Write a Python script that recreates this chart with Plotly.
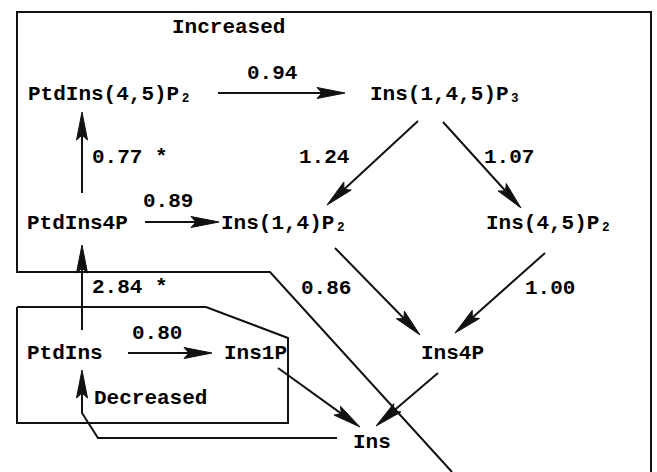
import math
import plotly.graph_objects as go

# ---------------- data ----------------
node_names = ["PtdIns(4,5)P₂", "Ins(1,4,5)P₃", "PtdIns4P", "Ins(1,4)P₂",
              "Ins(4,5)P₂", "Ins4P", "PtdIns", "Ins1P", "Ins"]
region_names = ["Increased", "Decreased"]
edge_source = ["PtdIns(4,5)P₂", "PtdIns4P", "Ins(1,4,5)P₃", "Ins(1,4,5)P₃", "PtdIns4P",
               "PtdIns", "Ins(1,4)P₂", "Ins(4,5)P₂", "PtdIns", "Ins1P", "Ins4P", "Ins"]
edge_target = ["Ins(1,4,5)P₃", "PtdIns(4,5)P₂", "Ins(1,4)P₂", "Ins(4,5)P₂", "Ins(1,4)P₂",
               "PtdIns4P", "Ins4P", "Ins4P", "Ins1P", "Ins", "Ins", "PtdIns"]
edge_values = ["0.94", "0.77 *", "1.24", "1.07", "0.89",
               "2.84 *", "0.86", "1.00", "0.80", "", "", ""]

# ---------------- layout (pixel canvas) ----------------
W, H = 657, 472
node_pos = {
    "PtdIns(4,5)P₂": (110, 94), "Ins(1,4,5)P₃": (445, 94),
    "PtdIns4P": (77, 223), "Ins(1,4)P₂": (284, 223), "Ins(4,5)P₂": (549, 223),
    "Ins4P": (452, 353), "PtdIns": (65, 353), "Ins1P": (255, 353), "Ins": (372, 442),
}
region_pos = {"Increased": (228, 27), "Decreased": (150, 398)}
# edge geometry: list of points (tail ... tip), label position
edge_geom = [
    ([(218, 93), (345, 93)], (272, 73)),
    ([(82, 193), (82, 112)], (130, 157)),
    ([(418, 121), (327, 205)], (324, 157)),
    ([(443, 122), (521, 208)], (509, 157)),
    ([(145, 222), (219, 222)], (168, 201)),
    ([(82, 330), (82, 245)], (130, 287)),
    ([(335, 248), (420, 335)], (326, 288)),
    ([(545, 253), (455, 333)], (550, 288)),
    ([(128, 353), (212, 353)], (157, 333)),
    ([(278, 368), (360, 427)], None),
    ([(438, 373), (376, 426)], None),
    ([(337, 438), (98, 438), (82, 413), (82, 370)], None),
]
region_paths = [
    [(452, 472), (270, 272), (17, 272), (17, 12), (651, 12), (651, 472)],
    [(17, 307), (206, 307), (288, 338), (288, 423), (17, 423), (17, 307)],
]

FONT = dict(family="Liberation Mono, Courier New, monospace", size=21, color="black", weight="bold")
INK = "#111111"

shapes = []
annotations = []


def path_str(pts, close=False):
    s = "M " + " L ".join(f"{x},{y}" for x, y in pts)
    return s + (" Z" if close else "")


def head(p0, p1, L=28, hw=5.5, notch=5):
    dx, dy = p1[0] - p0[0], p1[1] - p0[1]
    n = math.hypot(dx, dy)
    ux, uy = dx / n, dy / n
    px, py = -uy, ux
    bx, by = p1[0] - ux * L, p1[1] - uy * L
    left = (bx + px * hw, by + py * hw)
    right = (bx - px * hw, by - py * hw)
    mid = (bx + ux * notch, by + uy * notch)
    return path_str([p1, left, mid, right], close=True), (bx + ux * notch, by + uy * notch)


for pts in region_paths:
    shapes.append(dict(type="path", path=path_str(pts), xref="x", yref="y",
                       line=dict(color=INK, width=2), fillcolor="rgba(0,0,0,0)"))

for (pts, lab), val in zip(edge_geom, edge_values):
    hp, base = head(pts[-2], pts[-1])
    line_pts = pts[:-1] + [base]
    shapes.append(dict(type="path", path=path_str(line_pts), xref="x", yref="y",
                       line=dict(color=INK, width=2), fillcolor="rgba(0,0,0,0)"))
    shapes.append(dict(type="path", path=hp, xref="x", yref="y",
                       line=dict(color=INK, width=1), fillcolor=INK))
    if lab is not None and val:
        annotations.append(dict(x=lab[0], y=lab[1], text=val, showarrow=False,
                                xref="x", yref="y", font=FONT,
                                xanchor="center", yanchor="middle"))

for name in node_names:
    x, y = node_pos[name]
    annotations.append(dict(x=x, y=y, text=name, showarrow=False, xref="x", yref="y",
                            font=FONT, xanchor="center", yanchor="middle"))
for name in region_names:
    x, y = region_pos[name]
    annotations.append(dict(x=x, y=y, text=name, showarrow=False, xref="x", yref="y",
                            font=FONT, xanchor="center", yanchor="middle"))

fig = go.Figure()
fig.update_layout(
    width=W, height=H, margin=dict(l=0, r=0, t=0, b=0),
    paper_bgcolor="white", plot_bgcolor="white",
    xaxis=dict(range=[0, W], visible=False, fixedrange=True),
    yaxis=dict(range=[H, 0], visible=False, fixedrange=True),
    shapes=shapes, annotations=annotations, showlegend=False,
)
fig.write_html("out.html", config={"displayModeBar": False},
               post_script="document.body.style.margin='0';document.body.style.overflow='hidden';")
